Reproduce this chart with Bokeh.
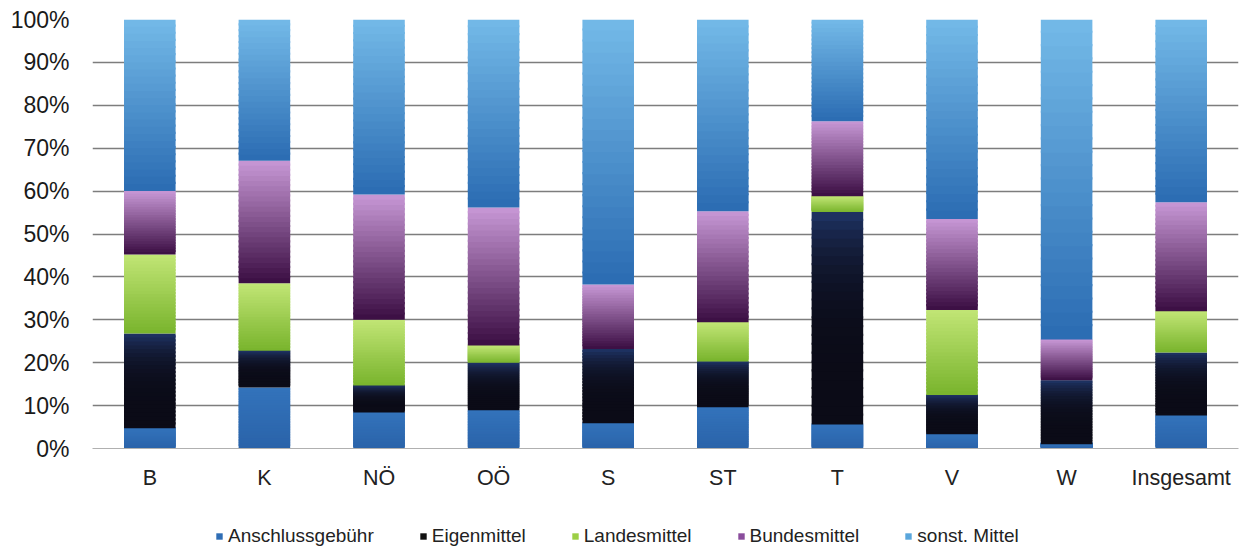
from bokeh.plotting import figure
from bokeh.layouts import column
from bokeh.models import FactorRange, Range1d, Legend, LegendItem, ColumnDataSource, FixedTicker
from bokeh.embed import file_html
from bokeh.resources import INLINE

categories = ["B", "K", "NÖ", "OÖ", "S", "ST", "T", "V", "W", "Insgesamt"]
series_names = ["Anschlussgebühr", "Eigenmittel", "Landesmittel", "Bundesmittel", "sonst. Mittel"]

anschluss = [4.7, 14.2, 8.4, 8.9, 5.9, 9.6, 5.6, 3.3, 1.0, 7.7]
eigen     = [22.1, 8.6, 6.3, 11.1, 17.3, 10.7, 49.5, 9.2, 14.9, 14.7]
landes    = [18.4, 15.7, 15.3, 4.0, 0.0, 9.1, 3.7, 19.8, 0.0, 9.6]
bundes    = [14.8, 28.6, 29.2, 32.2, 15.0, 25.9, 17.5, 21.2, 9.5, 25.4]
sonst     = [40.0, 32.9, 40.8, 43.8, 61.8, 44.7, 23.7, 46.5, 74.6, 42.6]

y_ticks = [0, 10, 20, 30, 40, 50, 60, 70, 80, 90, 100]
y_tick_labels = ["0%", "10%", "20%", "30%", "40%", "50%", "60%", "70%", "80%", "90%", "100%"]

# (bottom colour, top colour, curve exponent) for each series - gradient styling
grad = [
    ("#2a63a9", "#3373bb", 1.0),
    ("#0b0b17", "#1f3466", 4.0),
    ("#78b42c", "#c2e576", 1.0),
    ("#3a0d42", "#c898d6", 1.0),
    ("#2a6bb2", "#74bae8", 1.0),
]
legend_colors = ["#2f6db5", "#111111", "#9ccf45", "#8a4d9c", "#5aa6dc"]


def hex2rgb(h):
    h = h.lstrip("#")
    return tuple(int(h[i:i + 2], 16) for i in (0, 2, 4))


def mix(c0, c1, t):
    a, b = hex2rgb(c0), hex2rgb(c1)
    return "#%02x%02x%02x" % tuple(int(round(a[i] + (b[i] - a[i]) * t)) for i in range(3))


fig = figure(
    width=1240, height=493,
    x_range=FactorRange(*categories),
    y_range=Range1d(0, 100),
    output_backend="svg", toolbar_location=None,
    min_border_left=92, min_border_right=2, min_border_top=19, min_border_bottom=45,
)
fig.outline_line_color = None
fig.background_fill_color = "white"
fig.border_fill_color = "white"

series = [anschluss, eigen, landes, bundes, sonst]
N = 24
xs, bots, tops, cols = [], [], [], []
base = [0.0] * len(categories)
for s, vals in enumerate(series):
    c0, c1, ex = grad[s]
    for i, cat in enumerate(categories):
        b = base[i]
        v = vals[i]
        if v > 0:
            for k in range(N):
                xs.append(cat)
                bots.append(b + v * k / N)
                tops.append(b + v * (k + 1) / N + (0.5 if k < N - 1 else 0))
                cols.append(mix(c0, c1, ((k + 0.5) / N) ** ex))
        base[i] = b + v

src = ColumnDataSource(dict(x=xs, bottom=bots, top=tops, color=cols))
fig.vbar(x="x", bottom="bottom", top="top", width=0.45, source=src,
         fill_color="color", line_color=None)

# grid
fig.xgrid.grid_line_color = None
fig.ygrid.ticker = FixedTicker(ticks=y_ticks)
fig.ygrid.grid_line_color = "#7d7d7d"
fig.ygrid.grid_line_width = 1.3

# axes
fig.yaxis.ticker = FixedTicker(ticks=y_ticks)
fig.yaxis.major_label_overrides = {t: l for t, l in zip(y_ticks, y_tick_labels)}
fig.yaxis.axis_line_color = None
fig.yaxis.major_tick_line_color = None
fig.yaxis.minor_tick_line_color = None
fig.yaxis.major_label_standoff = 17
fig.yaxis.major_label_text_font = "Liberation Sans"
fig.yaxis.major_label_text_font_size = "23px"
fig.yaxis.major_label_text_color = "#1a1a1a"

fig.xaxis.axis_line_color = "#b0b0b0"
fig.xaxis.major_tick_line_color = None
fig.xaxis.minor_tick_line_color = None
fig.xaxis.major_label_standoff = 11
fig.xaxis.major_label_text_font = "Liberation Sans"
fig.xaxis.major_label_text_font_size = "21.5px"
fig.xaxis.major_label_text_color = "#222222"

# legend strip below the chart
leg_fig = figure(
    width=1240, height=58, x_range=Range1d(0, 1), y_range=Range1d(0, 1),
    output_backend="svg", toolbar_location=None,
    x_axis_location=None, y_axis_location=None,
    min_border_left=0, min_border_right=0, min_border_top=0, min_border_bottom=0,
)
leg_fig.grid.visible = False
leg_fig.outline_line_color = None

items = []
for name, c in zip(series_names, legend_colors):
    r = leg_fig.vbar(x=[0.5], bottom=[0], top=[0], width=0.1, fill_color=c, line_color=None)
    items.append(LegendItem(label=name, renderers=[r]))

legend = Legend(items=items, orientation="horizontal", location=(123, 4))
legend.padding = 0
legend.margin = 0
legend.spacing = 45
legend.glyph_width = 8
legend.glyph_height = 8
legend.label_height = 20
legend.label_standoff = 5
legend.label_text_font = "Liberation Sans"
legend.label_text_font_size = "19px"
legend.label_text_color = "#222222"
legend.border_line_color = None
legend.background_fill_alpha = 0
leg_fig.add_layout(legend, "center")

p = column(fig, leg_fig, spacing=0)

open("out.html", "w").write(file_html(p, INLINE))
